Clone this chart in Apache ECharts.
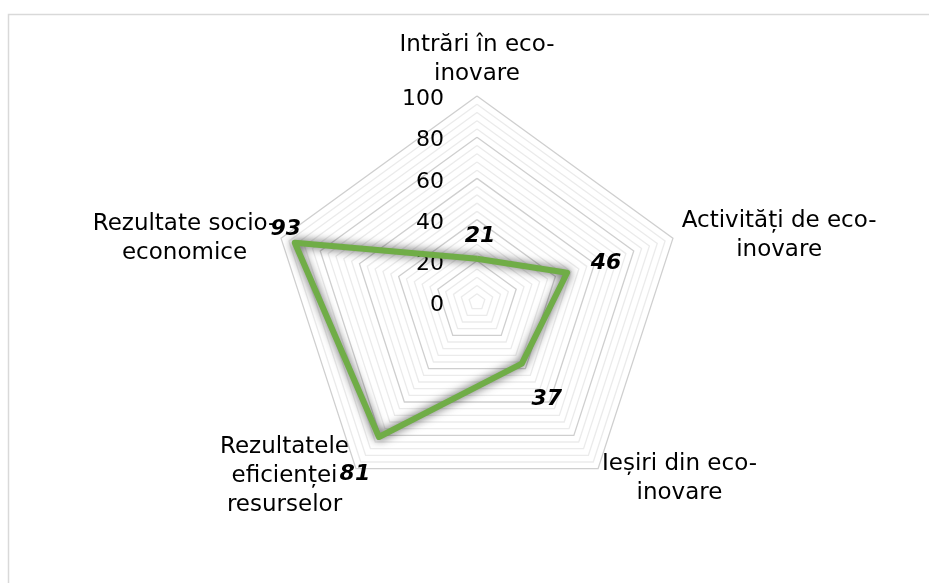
<!DOCTYPE html>
<html>
<head>
<meta charset="utf-8">
<script src="https://cdn.jsdelivr.net/npm/echarts@6/dist/echarts.min.js"></script>
<style>
  html, body { margin: 0; padding: 0; background: #fff; }
  #chart { width: 929px; height: 583px; }
</style>
</head>
<body>
<div id="chart"></div>
<script>
// Eco-innovation dimensions, listed clockwise from the top
const categories = [
  'Intrări în eco-\ninovare',
  'Activități de eco-\ninovare',
  'Ieșiri din eco-\ninovare',
  'Rezultatele\neficienței\nresurselor',
  'Rezultate socio-\neconomice'
];
const scores = [21, 46, 37, 81, 93];
const axisTicks = [0, 20, 40, 60, 80, 100];

// Value label nudges (dx, dy in px), same order as categories
const valueLabelShift = [[3, -22], [39, -9], [25, 36], [-24, 37], [-9, -14]];
// Axis name paddings [top, right, bottom, left], same order as categories
const namePadding = [[0, 0, 0, 0], [0, 0, 2, 4], [12, 0, 0, 1], [7, 4, 0, 0], [4, 0, 0, 0]];

// ECharts lays radar axes counter-clockwise; reorder so they read clockwise
const order = [0, 4, 3, 2, 1];
const FONT = 'DejaVu Sans, Verdana, sans-serif';

function padCentered(dx, dy) {
  return [dy > 0 ? 2 * dy : 0, dx < 0 ? -2 * dx : 0, dy < 0 ? -2 * dy : 0, dx > 0 ? 2 * dx : 0];
}

const valueRich = {};
const nameRich = {};
order.forEach(function (src, k) {
  const s = valueLabelShift[src];
  valueRich['v' + k] = {
    fontFamily: FONT, fontSize: 22, fontWeight: 'bold', fontStyle: 'italic',
    color: '#000', padding: padCentered(s[0], s[1])
  };
  nameRich['n' + k] = {
    fontFamily: FONT, fontSize: 23, color: '#000', lineHeight: 29, align: 'center',
    padding: namePadding[src]
  };
});

const indicators = order.map(function (src, k) {
  const ind = { name: categories[src], min: 0, max: 100 };
  if (k === 0) {
    ind.axisLabel = {
      show: true,
      color: '#000',
      margin: 33,
      formatter: function (v) { return axisTicks.indexOf(v) >= 0 ? '{t|' + v + '}' : ''; },
      rich: {
        t: { fontFamily: FONT, fontSize: 22, color: '#000', padding: [7, 0, 0, 0] }
      }
    };
  }
  return ind;
});

const chart = echarts.init(document.getElementById('chart'), null, { renderer: 'canvas' });
chart.setOption({
  animation: false,
  backgroundColor: '#ffffff',
  graphic: [{
    type: 'rect',
    shape: { x: 8.5, y: 14.5, width: 1000, height: 1000 },
    style: { fill: 'none', stroke: '#d9d9d9', lineWidth: 1.5 },
    silent: true
  }],
  radar: {
    center: [477, 302],
    radius: 206,
    startAngle: 90,
    shape: 'polygon',
    splitNumber: 25,
    nameGap: 5,
    axisName: {
      color: '#000',
      fontFamily: FONT,
      fontSize: 23,
      lineHeight: 29,
      formatter: function (name) {
        const k = indicators.findIndex(function (d) { return d.name === name; });
        return name.split('\n').map(function (line) { return '{n' + k + '|' + line + '}'; }).join('\n');
      },
      rich: nameRich
    },
    axisLine: { show: false },
    axisTick: { show: false },
    axisLabel: { show: false },
    splitArea: { show: false },
    splitLine: {
      lineStyle: {
        width: 1.3,
        color: ['#cfcfcf', '#ebebeb', '#ebebeb', '#ebebeb', '#ebebeb']
      }
    },
    indicator: indicators
  },
  series: [{
    type: 'radar',
    symbol: 'circle',
    symbolSize: 1,
    itemStyle: { color: '#70ad47' },
    lineStyle: {
      color: '#70ad47',
      width: 6,
      shadowColor: 'rgba(0,0,0,0.7)',
      shadowBlur: 10,
      shadowOffsetX: 0,
      shadowOffsetY: 0
    },
    label: {
      show: true,
      position: 'inside',
      formatter: function (p) { return '{v' + p.dimensionIndex + '|' + p.value + '}'; },
      rich: valueRich
    },
    data: [{ value: order.map(function (i) { return scores[i]; }), name: 'Scor' }]
  }]
});
</script>
</body>
</html>
